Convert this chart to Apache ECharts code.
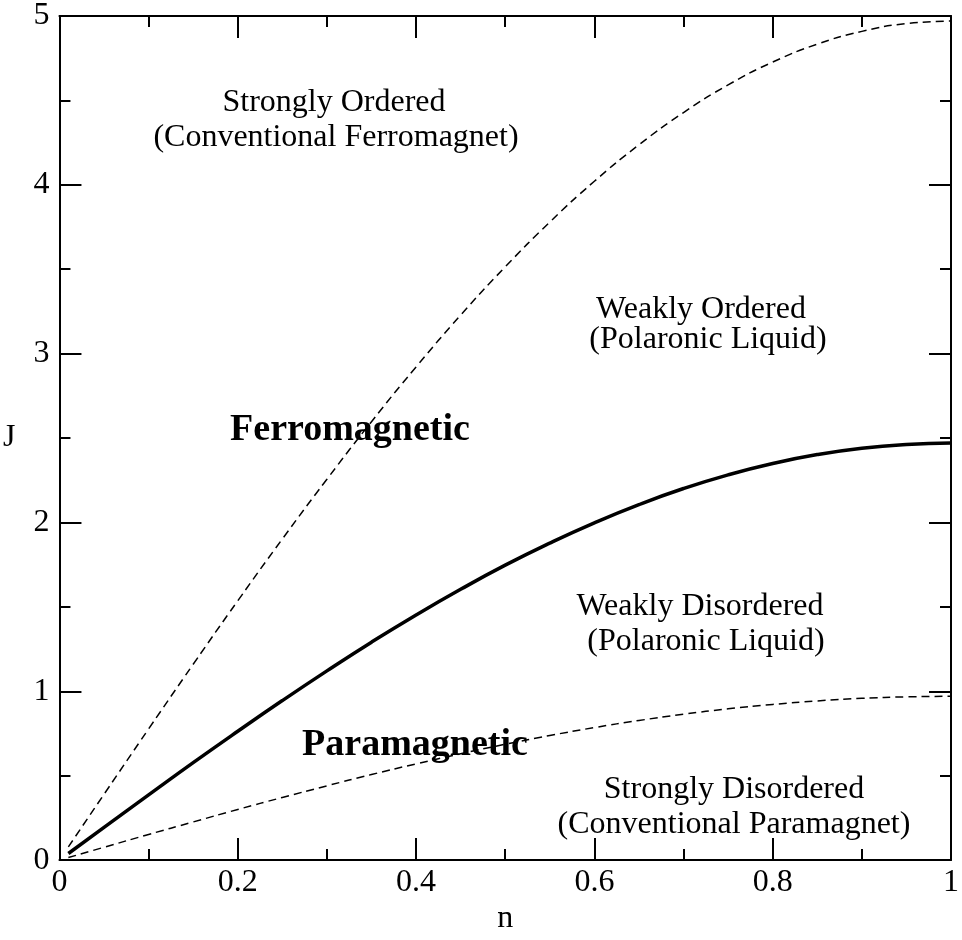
<!DOCTYPE html>
<html>
<head>
<meta charset="utf-8">
<title>Phase diagram J vs n</title>
<script src="https://cdn.jsdelivr.net/npm/echarts@6/dist/echarts.min.js"></script>
<style>
  html, body { margin: 0; padding: 0; background: #fff; }
  #main { width: 962px; height: 940px; }
</style>
</head>
<body>
<div id="main"></div>
<script>
// values
var nValues = [0.01, 0.05, 0.1, 0.15, 0.2, 0.25, 0.3, 0.35, 0.4, 0.45, 0.5,
               0.55, 0.6, 0.65, 0.7, 0.75, 0.8, 0.85, 0.9, 0.95, 1.0];
var ferroBoundary = [0.039, 0.194, 0.386, 0.577, 0.763, 0.945, 1.121, 1.291, 1.452, 1.604, 1.747,
                     1.878, 1.998, 2.106, 2.201, 2.282, 2.349, 2.402, 2.440, 2.462, 2.470];
var strongOrderLine = [0.078, 0.390, 0.777, 1.160, 1.536, 1.902, 2.256, 2.597, 2.921, 3.228, 3.514,
                       3.779, 4.021, 4.237, 4.428, 4.592, 4.727, 4.833, 4.909, 4.955, 4.970];
var strongDisorderLine = [0.015, 0.076, 0.152, 0.226, 0.300, 0.371, 0.440, 0.507, 0.570, 0.630, 0.686,
                          0.738, 0.785, 0.827, 0.864, 0.896, 0.922, 0.943, 0.958, 0.967, 0.970];

var serif = '"Liberation Serif", "Times New Roman", serif';

function pairs(ys) {
    return nValues.map(function (n, i) { return [n, ys[i]]; });
}

function fmtX(v) {
    // 0 and 1 without decimals, like the picture
    if (v === 0 || v === 1) return String(v);
    return v.toFixed(1);
}

var frameAxis = {
    axisLine: { show: true, onZero: false, lineStyle: { color: '#000', width: 2 } },
    axisTick: { show: true, inside: true, length: 22, lineStyle: { color: '#000', width: 2 } },
    minorTick: { show: true, splitNumber: 2, length: 11, lineStyle: { color: '#000', width: 2 } },
    splitLine: { show: false },
    minorSplitLine: { show: false }
};

function axis(extra) {
    return Object.assign({}, JSON.parse(JSON.stringify(frameAxis)), extra);
}

function label(text, x, y, bold) {
    return {
        type: 'text',
        x: x,
        y: y,
        silent: true,
        style: {
            text: text,
            font: (bold ? 'bold 38px ' : '32px ') + serif,
            fill: '#000',
            align: 'center',
            verticalAlign: 'middle'
        }
    };
}

var myChart = echarts.init(document.getElementById('main'));

myChart.setOption({
    animation: false,
    backgroundColor: '#fff',
    grid: { left: 58, right: 5, top: 10, bottom: 66, containLabel: false },
    xAxis: [
        axis({
            type: 'value', position: 'bottom', min: 0, max: 1, interval: 0.2,
            name: 'n', nameLocation: 'middle', nameGap: 42,
            nameTextStyle: { fontFamily: serif, fontSize: 32, color: '#000' },
            axisLabel: { margin: 6, fontFamily: serif, fontSize: 32, color: '#000', formatter: fmtX }
        }),
        axis({
            type: 'value', position: 'top', min: 0, max: 1, interval: 0.2,
            axisLabel: { show: false }
        })
    ],
    yAxis: [
        axis({
            type: 'value', position: 'left', min: 0, max: 5, interval: 1,
            name: 'J', nameLocation: 'middle', nameGap: 44, nameRotate: 0,
            nameTextStyle: { fontFamily: serif, fontSize: 32, color: '#000' },
            axisLabel: { margin: 10, fontFamily: serif, fontSize: 32, color: '#000' }
        }),
        axis({
            type: 'value', position: 'right', min: 0, max: 5, interval: 1,
            axisLabel: { show: false }
        })
    ],
    series: [
        {
            name: 'ferro boundary', type: 'line', smooth: true, showSymbol: false,
            data: pairs(ferroBoundary),
            lineStyle: { color: '#000', width: 3.5 }
        },
        {
            name: 'strongly ordered', type: 'line', smooth: true, showSymbol: false,
            data: pairs(strongOrderLine),
            lineStyle: { color: '#000', width: 1.5, type: [8, 5] }
        },
        {
            name: 'strongly disordered', type: 'line', smooth: true, showSymbol: false,
            data: pairs(strongDisorderLine),
            lineStyle: { color: '#000', width: 1.5, type: [8, 5] }
        }
    ],
    graphic: [
        label('Strongly Ordered', 334, 103),
        label('(Conventional Ferromagnet)', 336, 138),
        label('Weakly Ordered', 701, 310),
        label('(Polaronic Liquid)', 708, 340),
        label('Ferromagnetic', 350, 430, true),
        label('Weakly Disordered', 700, 607),
        label('(Polaronic Liquid)', 706, 642),
        label('Paramagnetic', 415, 745, true),
        label('Strongly Disordered', 734, 790),
        label('(Conventional Paramagnet)', 734, 825)
    ]
});
</script>
</body>
</html>
